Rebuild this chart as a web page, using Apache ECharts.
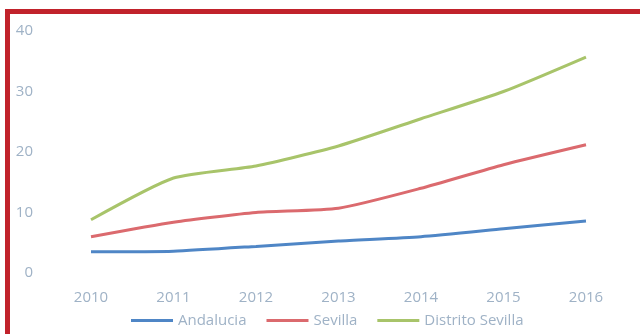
<!DOCTYPE html>
<html>
<head>
<meta charset="utf-8">
<script src="https://cdn.jsdelivr.net/npm/echarts@6/dist/echarts.min.js"></script>
<style>
  html, body { margin: 0; padding: 0; background: #fff; }
  #chart { width: 640px; height: 334px; }
</style>
</head>
<body>
<div id="chart"></div>
<script>
// Years on the horizontal axis
const years = ['2010', '2011', '2012', '2013', '2014', '2015', '2016'];

// Series values
const andalucia = [3.5, 3.6, 4.4, 5.3, 6.0, 7.3, 8.6];
const sevilla = [6.0, 8.4, 10.0, 10.7, 14.0, 17.9, 21.2];
const distritoSevilla = [8.8, 15.7, 17.7, 21.0, 25.5, 30.0, 35.7];

const seriesNames = ['Andalucia', 'Sevilla', 'Distrito Sevilla'];
const seriesColors = ['#4f86c6', '#db6a6e', '#a8c46a'];
const seriesData = [andalucia, sevilla, distritoSevilla];

const labelColor = '#9fb2c6';

const chart = echarts.init(document.getElementById('chart'), null, { renderer: 'canvas' });

chart.setOption({
  animation: false,
  backgroundColor: '#fff',
  textStyle: { fontFamily: 'Open Sans, Liberation Sans, sans-serif' },
  grid: { left: 91, right: 54, top: 31, bottom: 61, containLabel: false },
  xAxis: {
    type: 'category',
    data: years,
    boundaryGap: false,
    axisLine: { show: false },
    axisTick: { show: false },
    axisLabel: { color: labelColor, fontSize: 15, margin: 17 }
  },
  yAxis: {
    type: 'value',
    min: 0,
    max: 40,
    interval: 10,
    axisLine: { show: false },
    axisTick: { show: false },
    splitLine: { show: false },
    axisLabel: { color: labelColor, fontSize: 15, margin: 58 }
  },
  legend: {
    bottom: 1,
    left: 126,
    icon: 'rect',
    itemWidth: 42,
    itemHeight: 3,
    itemGap: 20,
    textStyle: { color: labelColor, fontSize: 15 },
    data: seriesNames
  },
  series: seriesNames.map((name, i) => ({
    name: name,
    type: 'line',
    data: seriesData[i],
    smooth: 0.2,
    symbol: 'none',
    lineStyle: { color: seriesColors[i], width: 3 },
    itemStyle: { color: seriesColors[i] }
  })),
  graphic: [
    // Red frame along the left and top edges
    { type: 'rect', left: 5, top: 9, shape: { width: 635, height: 5 }, style: { fill: '#c1222b' } },
    { type: 'rect', left: 5, top: 9, shape: { width: 5, height: 325 }, style: { fill: '#c1222b' } }
  ]
});
</script>
</body>
</html>
